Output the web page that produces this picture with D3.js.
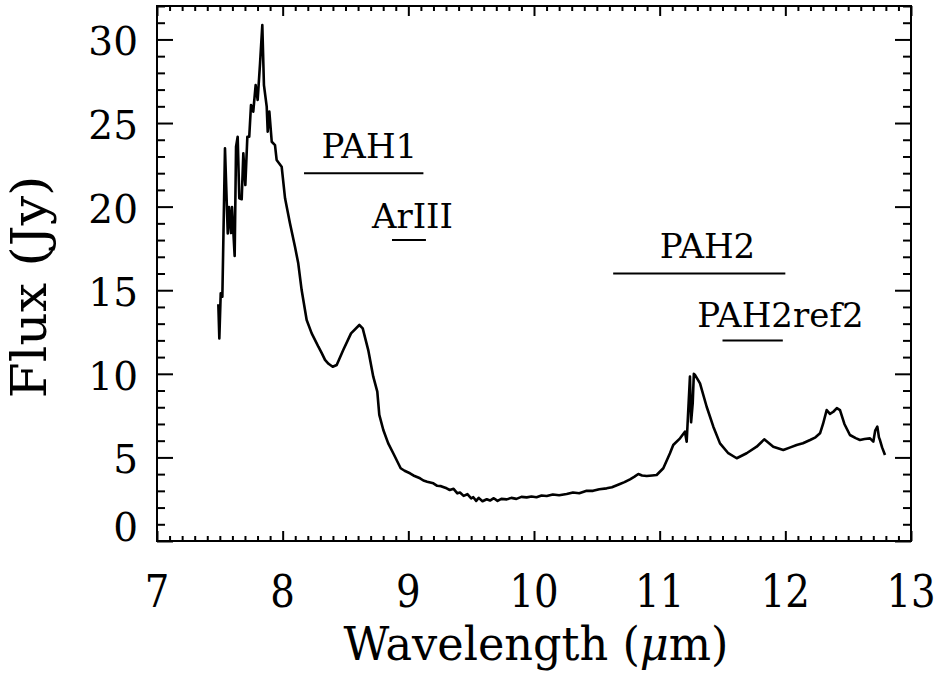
<!DOCTYPE html>
<html>
<head>
<meta charset="utf-8">
<script src="https://cdn.jsdelivr.net/npm/d3@7"></script>
<style>
  body { margin: 0; background: #fff; }
  svg { display: block; }
  text { font-family: "DejaVu Serif", "Liberation Serif", serif; fill: #000; }
</style>
</head>
<body>
<div id="chart"></div>
<script>
// spectrum: wavelength (um) and flux (Jy)
const wavelength = [
  7.488, 7.496, 7.507, 7.520, 7.541, 7.563, 7.573, 7.589, 7.597, 7.618,
  7.629, 7.642, 7.655, 7.674, 7.687, 7.703, 7.719, 7.734, 7.748, 7.766,
  7.785, 7.801, 7.820, 7.838, 7.851, 7.873, 7.881, 7.894, 7.913, 7.939,
  7.952, 7.992, 8.019, 8.058, 8.098, 8.124, 8.151, 8.191, 8.231, 8.271,
  8.284, 8.310, 8.337, 8.365, 8.398, 8.430, 8.482, 8.544, 8.610, 8.637,
  8.681, 8.721, 8.753, 8.769, 8.801, 8.840, 8.880, 8.939, 8.970, 9.013,
  9.040, 9.093, 9.120, 9.150, 9.199, 9.230, 9.260, 9.305, 9.330, 9.360,
  9.390, 9.411, 9.440, 9.470, 9.500, 9.517, 9.540, 9.560, 9.590, 9.624,
  9.650, 9.680, 9.710, 9.740, 9.783, 9.820, 9.860, 9.900, 9.942, 9.980,
  10.020, 10.060, 10.101, 10.150, 10.200, 10.260, 10.310, 10.360, 10.419, 10.470,
  10.520, 10.578, 10.620, 10.684, 10.720, 10.764, 10.800, 10.830, 10.860, 10.897,
  10.940, 10.976, 11.029, 11.082, 11.108, 11.162, 11.201, 11.215, 11.241, 11.250,
  11.263, 11.272, 11.281, 11.300, 11.321, 11.374, 11.427, 11.480, 11.546, 11.613,
  11.692, 11.772, 11.832, 11.904, 11.984, 12.040, 12.090, 12.140, 12.197, 12.240,
  12.276, 12.300, 12.329, 12.355, 12.382, 12.410, 12.435, 12.470, 12.514, 12.560,
  12.594, 12.630, 12.674, 12.700, 12.715, 12.732, 12.745, 12.753, 12.770, 12.793
];
const flux = [
  14.16, 12.12, 14.81, 14.61, 23.49, 18.40, 19.98, 18.42, 19.98, 17.05,
  23.58, 24.18, 20.50, 20.44, 23.19, 21.29, 24.18, 24.18, 26.08, 25.68,
  27.27, 26.38, 28.57, 30.86, 27.27, 25.98, 24.48, 25.68, 23.88, 23.68,
  22.79, 22.39, 20.50, 19.00, 17.60, 16.61, 15.01, 13.22, 12.42, 11.82,
  11.62, 11.25, 10.83, 10.60, 10.42, 10.53, 11.42, 12.42, 12.92, 12.72,
  11.42, 9.83, 8.93, 7.54, 6.64, 5.84, 5.25, 4.35, 4.20, 4.05,
  3.92, 3.75, 3.62, 3.55, 3.45, 3.30, 3.28, 3.15, 3.05, 3.12,
  2.85, 2.90, 2.70, 2.80, 2.55, 2.62, 2.40, 2.58, 2.38, 2.50,
  2.42, 2.56, 2.40, 2.52, 2.49, 2.58, 2.52, 2.64, 2.61, 2.66,
  2.62, 2.72, 2.69, 2.78, 2.74, 2.81, 2.90, 2.86, 3.01, 3.00,
  3.10, 3.15, 3.22, 3.41, 3.52, 3.69, 3.85, 4.01, 3.92, 3.89,
  3.92, 3.95, 4.35, 5.25, 5.74, 6.14, 6.54, 5.94, 9.83, 7.10,
  8.24, 10.00, 9.93, 9.70, 9.43, 8.03, 6.84, 5.84, 5.25, 4.95,
  5.25, 5.64, 6.08, 5.64, 5.44, 5.60, 5.74, 5.85, 6.04, 6.20,
  6.44, 7.00, 7.83, 7.60, 7.73, 7.95, 7.83, 7.00, 6.34, 6.15,
  6.04, 6.10, 6.14, 5.94, 6.60, 6.84, 6.20, 6.04, 5.60, 5.14
];

// axes
const xTicks = [7, 8, 9, 10, 11, 12, 13];
const yTicks = [0, 5, 10, 15, 20, 25, 30];

// feature bands: label, wavelength range, flux level, label anchor
const bandNames = ['PAH1', 'ArIII', 'PAH2', 'PAH2ref2'];
const bandStart = [8.17, 8.87, 10.63, 11.50];
const bandEnd = [9.12, 9.14, 12.00, 11.98];
const bandLevel = [22, 18, 16, 12];
const labelX = [8.31, 8.71, 11.00, 11.30];
const labelY = [22.9, 18.75, 16.95, 12.8];

const width = 940, height = 673;
const margin = {top: 6, right: 29, bottom: 132, left: 157};

const svg = d3.select('#chart').append('svg')
  .attr('width', width)
  .attr('height', height);

const x = d3.scaleLinear().domain([7, 13]).range([margin.left, width - margin.right]);
const y = d3.scaleLinear().domain([0, 32]).range([height - margin.bottom, margin.top]);

const x0 = x.range()[0], x1 = x.range()[1];
const y0 = y.range()[0], y1 = y.range()[1];

// minor / major ticks, pointing inward on all four sides
const xMinor = d3.range(70, 131).map(d => d / 10).filter(d => d % 1 !== 0);
const yMinor = d3.range(0, 33).filter(d => d % 5 !== 0);

function tickGroup(axis, tx, ty) {
  const g = svg.append('g').attr('transform', `translate(${tx},${ty})`).call(axis);
  g.select('.domain').remove();
  g.selectAll('text').remove();
  g.selectAll('line').attr('stroke', '#000').attr('stroke-width', 2);
  return g;
}

tickGroup(d3.axisBottom(x).tickValues(xMinor).tickSize(-5), 0, y0);
tickGroup(d3.axisBottom(x).tickValues(xTicks).tickSize(-10), 0, y0);
tickGroup(d3.axisTop(x).tickValues(xMinor).tickSize(-5), 0, y1);
tickGroup(d3.axisTop(x).tickValues(xTicks).tickSize(-10), 0, y1);
tickGroup(d3.axisLeft(y).tickValues(yMinor).tickSize(-8), x0, 0);
tickGroup(d3.axisLeft(y).tickValues(yTicks).tickSize(-16), x0, 0);
tickGroup(d3.axisRight(y).tickValues(yMinor).tickSize(-8), x1, 0);
tickGroup(d3.axisRight(y).tickValues(yTicks).tickSize(-16), x1, 0);

// frame
svg.append('rect')
  .attr('x', x0).attr('y', y1)
  .attr('width', x1 - x0).attr('height', y0 - y1)
  .attr('fill', 'none')
  .attr('stroke', '#000')
  .attr('stroke-width', 2);

// tick labels
svg.append('g').selectAll('text')
  .data(xTicks)
  .enter().append('text')
  .attr('transform', d => `translate(${x(d)},607) scale(0.86,1)`)
  .attr('text-anchor', 'middle')
  .style('font-size', '45px')
  .text(d => d);

svg.append('g').selectAll('text')
  .data(yTicks)
  .enter().append('text')
  .attr('x', 138)
  .attr('y', d => y(d) + (d === 0 ? 0 : 16))
  .attr('text-anchor', 'end')
  .style('font-size', '39px')
  .text(d => d);

// axis titles
const xTitle = svg.append('text')
  .attr('transform', 'translate(536,660) scale(0.97,1)')
  .attr('text-anchor', 'middle')
  .style('font-size', '46px');
xTitle.append('tspan').text('Wavelength (');
xTitle.append('tspan').style('font-style', 'italic').text('μ');
xTitle.append('tspan').text('m)');

svg.append('text')
  .attr('transform', 'translate(46,287) rotate(-90) scale(1.06,1)')
  .attr('text-anchor', 'middle')
  .style('font-size', '49px')
  .text('Flux (Jy)');

// spectrum
const points = wavelength.map((w, i) => [w, flux[i]]);
svg.append('path')
  .datum(points)
  .attr('d', d3.line().x(d => x(d[0])).y(d => y(d[1])))
  .attr('fill', 'none')
  .attr('stroke', '#000')
  .attr('stroke-width', 2.6)
  .attr('stroke-linejoin', 'round');

// feature bands
const bands = svg.append('g');
bandNames.forEach((name, i) => {
  bands.append('line')
    .attr('x1', x(bandStart[i])).attr('x2', x(bandEnd[i]))
    .attr('y1', y(bandLevel[i])).attr('y2', y(bandLevel[i]))
    .attr('stroke', '#000')
    .attr('stroke-width', 2);
  bands.append('text')
    .attr('x', x(labelX[i]))
    .attr('y', y(labelY[i]))
    .style('font-size', '34px')
    .text(name);
});
</script>
</body>
</html>
